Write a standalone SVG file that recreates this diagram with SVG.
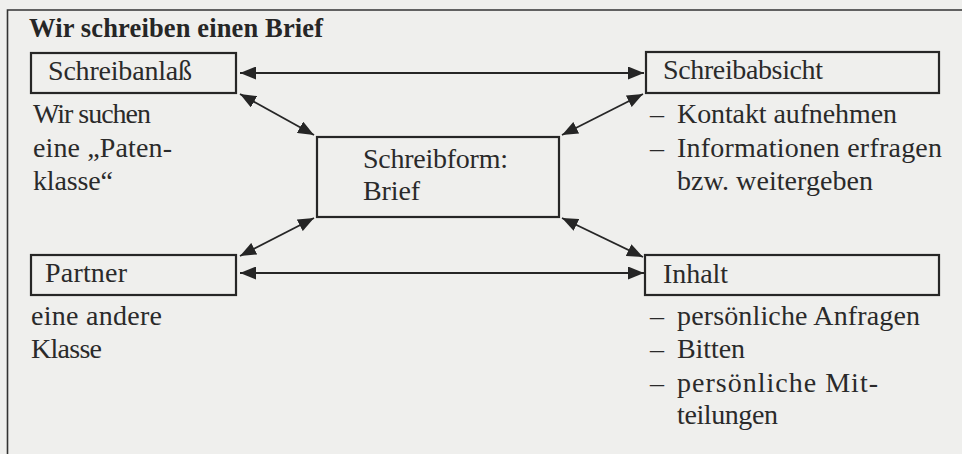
<svg xmlns="http://www.w3.org/2000/svg" width="962" height="454" viewBox="0 0 962 454">
<defs>
<marker id="ah" viewBox="0 0 16 13" refX="16" refY="6.5" markerWidth="16" markerHeight="13" markerUnits="userSpaceOnUse" orient="auto-start-reverse">
<path d="M0,0 L16,6.5 L0,13 Z" fill="#252525"/>
</marker>
<style>
.t{font-family:"Liberation Serif","Times New Roman",serif;font-size:28px;fill:#2a2a2a}
.b{font-family:"Liberation Serif","Times New Roman",serif;font-size:26.5px;font-weight:bold;fill:#262626}
.box{fill:none;stroke:#262626;stroke-width:2.2}
.c{stroke:#262626;stroke-width:1.8;fill:none;marker-start:url(#ah);marker-end:url(#ah)}
</style>
</defs>
<rect x="0" y="0" width="962" height="454" fill="#efefed"/>
<path d="M7.5,460 L7.5,10 L970,10" fill="none" stroke="#333" stroke-width="1.6"/>
<text class="b" x="29" y="37" textLength="294">Wir schreiben einen Brief</text>

<g id="connectors">
<line class="c" x1="240" y1="73" x2="644" y2="73"/>
<line class="c" x1="240" y1="94" x2="314" y2="135"/>
<line class="c" x1="643" y1="94" x2="562" y2="135"/>
<line class="c" x1="240" y1="256" x2="314" y2="218"/>
<line class="c" x1="643" y1="257" x2="562" y2="218"/>
<line class="c" x1="240" y1="273" x2="644" y2="273"/>
</g>

<g id="schreibanlass">
<rect class="box" x="31" y="53" width="205" height="40"/>
<text class="t" x="48" y="80" textLength="144">Schreibanlaß</text>
<text class="t" x="33" y="123" textLength="118">Wir suchen</text>
<text class="t" x="33" y="157" textLength="139">eine „Paten-</text>
<text class="t" x="33" y="190" textLength="80">klasse“</text>
</g>

<g id="schreibabsicht">
<rect class="box" x="646" y="52" width="293" height="41"/>
<text class="t" x="663" y="79" textLength="160">Schreibabsicht</text>
<text class="t" x="650" y="123">–</text>
<text class="t" x="677" y="123" textLength="220">Kontakt aufnehmen</text>
<text class="t" x="650" y="157">–</text>
<text class="t" x="677" y="157" textLength="265">Informationen erfragen</text>
<text class="t" x="677" y="190" textLength="196">bzw. weitergeben</text>
</g>

<g id="schreibform">
<rect class="box" x="317" y="137" width="242" height="80"/>
<text class="t" x="363" y="168" textLength="145">Schreibform:</text>
<text class="t" x="363" y="200" textLength="57">Brief</text>
</g>

<g id="partner">
<rect class="box" x="31" y="255" width="205" height="40"/>
<text class="t" x="45" y="282" textLength="82">Partner</text>
<text class="t" x="31" y="325" textLength="131">eine andere</text>
<text class="t" x="31" y="358" textLength="71">Klasse</text>
</g>

<g id="inhalt">
<rect class="box" x="645" y="255" width="294" height="40"/>
<text class="t" x="663" y="283" textLength="65">Inhalt</text>
<text class="t" x="650" y="325">–</text>
<text class="t" x="677" y="325" textLength="243">persönliche Anfragen</text>
<text class="t" x="650" y="358">–</text>
<text class="t" x="677" y="358" textLength="68">Bitten</text>
<text class="t" x="650" y="392">–</text>
<text class="t" x="677" y="392" textLength="201">persönliche Mit-</text>
<text class="t" x="677" y="424" textLength="101">teilungen</text>
</g>
</svg>
